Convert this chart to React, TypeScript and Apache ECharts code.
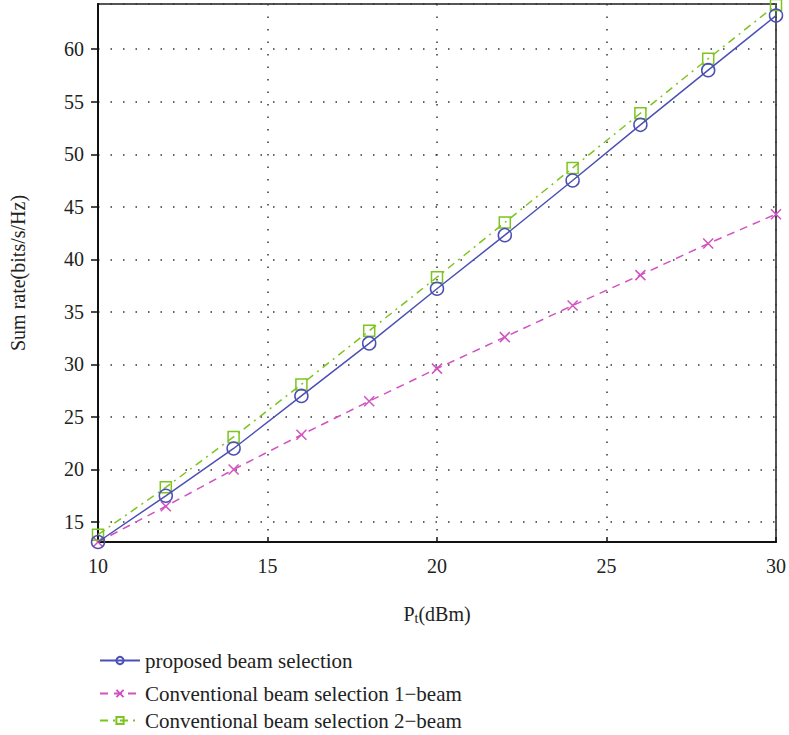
import React, { useEffect, useRef } from "react";
import * as echarts from "echarts";

const xValues = [10, 12, 14, 16, 18, 20, 22, 24, 26, 28, 30];
const proposed = [13.1, 17.5, 22.0, 27.0, 32.0, 37.2, 42.3, 47.5, 52.8, 58.0, 63.2];
const conv1 = [13.1, 16.5, 20.0, 23.3, 26.5, 29.6, 32.6, 35.6, 38.5, 41.5, 44.3];
const conv2 = [13.8, 18.3, 23.1, 28.1, 33.2, 38.3, 43.5, 48.7, 53.9, 59.1, 64.2];
const seriesNames = [
  "proposed beam selection",
  "Conventional beam selection 1\u2212beam",
  "Conventional beam selection 2\u2212beam",
];
const legendTops = [645, 678, 705];

const FONT = "'Liberation Serif', 'Times New Roman', serif";
const BLUE = "#4b50b4";
const MAGENTA = "#d152c0";
const GREEN = "#7cc41e";

export default function App() {
  const ref = useRef<HTMLDivElement>(null);
  useEffect(() => {
    if (!ref.current) return;
    const chart = echarts.init(ref.current, undefined, { renderer: "svg" });
    const pair = (arr: number[]) => xValues.map((x, i) => [x, arr[i]]);
    const gridLine = { show: true, lineStyle: { type: [1.5, 11], color: "#333", width: 1.5 } };
    chart.setOption({
      animation: false,
      backgroundColor: "#fff",
      textStyle: { fontFamily: FONT },
      grid: {
        left: 97,
        right: 10,
        top: 4,
        bottom: 193,
        show: true,
        borderColor: "#555",
        borderWidth: 2,
      },
      xAxis: {
        type: "value",
        min: 10,
        max: 30,
        interval: 5,
        name: "P{sub|t}(dBm)",
        nameLocation: "middle",
        nameGap: 60,
        nameTextStyle: {
          fontFamily: FONT,
          fontSize: 20,
          color: "#222",
          rich: { sub: { fontSize: 14, verticalAlign: "bottom", padding: [9, 0, 0, 0], fontFamily: FONT, color: "#222" } },
        },
        axisLine: { show: true, lineStyle: { color: "#111", width: 2 } },
        axisTick: { show: true, inside: true, length: 5, lineStyle: { color: "#111", width: 1.5 } },
        axisLabel: { fontFamily: FONT, fontSize: 20, color: "#222", margin: 14 },
        splitLine: gridLine,
      },
      yAxis: {
        type: "value",
        min: 13.1,
        max: 64.3,
        splitNumber: 10,
        name: "Sum rate(bits/s/Hz)",
        nameLocation: "middle",
        nameGap: 70,
        nameTextStyle: { fontFamily: FONT, fontSize: 20, color: "#222" },
        axisLine: { show: true, lineStyle: { color: "#111", width: 2 } },
        axisTick: { show: true, inside: false, length: 7, lineStyle: { color: "#111", width: 1.5 } },
        axisLabel: {
          fontFamily: FONT,
          fontSize: 20,
          color: "#222",
          margin: 14,
          showMinLabel: false,
          showMaxLabel: false,
        },
        splitLine: gridLine,
      },
      legend: seriesNames.map((n, i) => ({
        orient: "vertical",
        left: 94,
        top: legendTops[i],
        itemWidth: 40,
        itemHeight: 9,
        textStyle: { fontFamily: FONT, fontSize: 21, color: "#222" },
        data: [n],
      })),
      series: [
        {
          name: seriesNames[0],
          type: "line",
          data: pair(proposed),
          symbol: "circle",
          symbolSize: 13,
          lineStyle: { color: BLUE, width: 1.5, type: "solid" },
          itemStyle: { color: "rgba(255,255,255,0)", borderColor: BLUE, borderWidth: 1.5 },
          z: 3,
        },
        {
          name: seriesNames[1],
          type: "line",
          data: pair(conv1),
          symbol: "path://M0,0L10,10M10,0L0,10",
          symbolSize: 10,
          lineStyle: { color: MAGENTA, width: 1.5, type: [8, 6] },
          itemStyle: { color: "rgba(255,255,255,0)", borderColor: MAGENTA, borderWidth: 1.5 },
          z: 2,
        },
        {
          name: seriesNames[2],
          type: "line",
          data: pair(conv2),
          symbol: "rect",
          symbolSize: 11,
          lineStyle: { color: GREEN, width: 1.5, type: [8, 5, 2, 5] },
          itemStyle: { color: "rgba(255,255,255,0)", borderColor: GREEN, borderWidth: 1.5 },
          z: 2,
        },
      ],
    });
    return () => chart.dispose();
  }, []);
  return (
    <div
      ref={ref}
      style={{ position: "fixed", left: 0, top: 0, width: 789, height: 735 }}
    />
  );
}
